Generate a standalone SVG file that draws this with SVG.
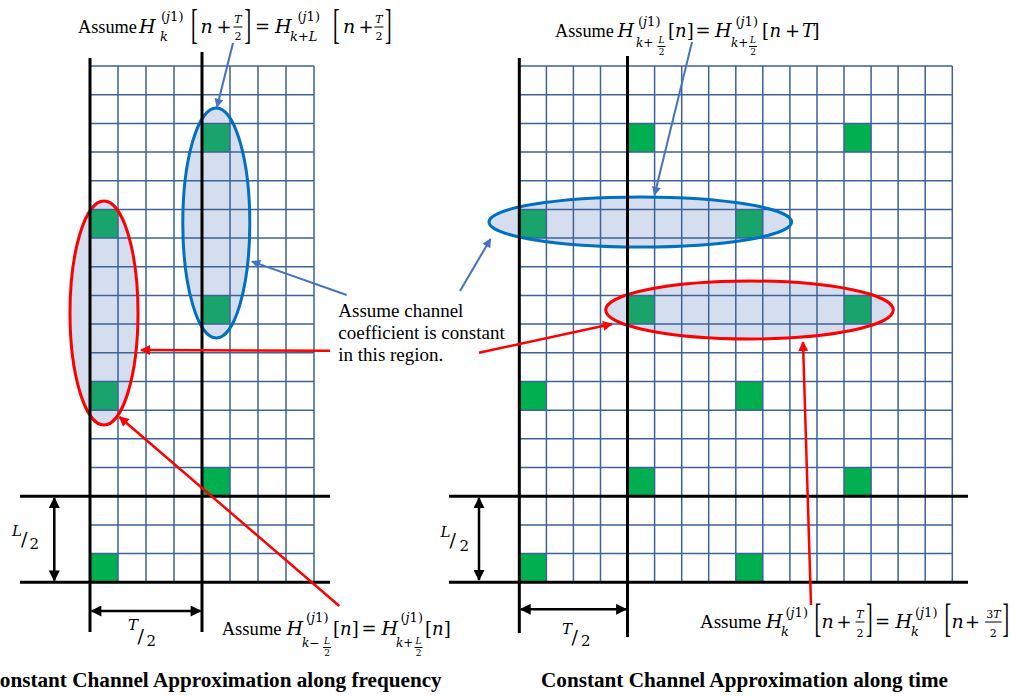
<svg xmlns="http://www.w3.org/2000/svg" width="1011" height="696" viewBox="0 0 1011 696">
<defs>
<style>
.tx{font-family:"Liberation Serif","Times New Roman",serif;fill:#000}
.m{font-family:"DejaVu Serif",serif;fill:#000}
.i{font-style:italic}
.cap{font-family:"Liberation Serif","Times New Roman",serif;font-weight:bold;font-size:21.2px;fill:#000}
.grid{fill:none;stroke:#3D6399;stroke-width:1.5}
.thick{fill:none;stroke:#000;stroke-width:3}
.g{fill:#00B050}
.gd{fill:#18A46A}
.efill{fill:#D5DEEF;stroke:none}
.eb{fill:none;stroke:#0070C0;stroke-width:3}
.er{fill:none;stroke:#FF0000;stroke-width:3}
.ab{fill:none;stroke:#4472C4;stroke-width:2;marker-end:url(#mb)}
.ar{fill:none;stroke:#FF0000;stroke-width:2.5;marker-end:url(#mr)}
.ad{fill:none;stroke:#000;stroke-width:2.5;marker-start:url(#mk);marker-end:url(#mk)}
.fb{stroke:#000;stroke-width:1}
</style>
<marker id="mb" viewBox="0 0 10 10" refX="9" refY="5" markerWidth="11" markerHeight="9" markerUnits="userSpaceOnUse" orient="auto"><path d="M0,0 L10,5 L0,10 z" fill="#4472C4"/></marker>
<marker id="mr" viewBox="0 0 10 10" refX="9" refY="5" markerWidth="11" markerHeight="10" markerUnits="userSpaceOnUse" orient="auto"><path d="M0,0 L10,5 L0,10 z" fill="#FF0000"/></marker>
<marker id="mk" viewBox="0 0 10 10" refX="9" refY="5" markerWidth="12" markerHeight="11" markerUnits="userSpaceOnUse" orient="auto-start-reverse"><path d="M0,0 L10,5 L0,10 z" fill="#000"/></marker>
</defs>
<rect width="1011" height="696" fill="#fff"/>

<g id="regions-fill">
<ellipse class="efill" cx="216.3" cy="223" rx="33.5" ry="115"/>
<ellipse class="efill" cx="104" cy="313" rx="34" ry="112"/>
<ellipse class="efill" cx="640.3" cy="222" rx="151.3" ry="25"/>
<ellipse class="efill" cx="749.5" cy="310" rx="143.8" ry="29"/>
</g>

<g id="left-grid">
<rect class="gd" x="90" y="209.4" width="28" height="28.7"/>
<rect class="gd" x="90" y="381.5" width="28" height="28.7"/>
<rect class="g" x="90" y="553.6" width="28" height="28.7"/>
<rect class="gd" x="202" y="123.4" width="28" height="28.7"/>
<rect class="gd" x="202" y="295.4" width="28" height="28.7"/>
<rect class="g" x="202" y="467.5" width="28" height="28.7"/>
<path class="grid" d="M90 66V582.2M118 66V582.2M146 66V582.2M174 66V582.2M202 66V582.2M230 66V582.2M258 66V582.2M286 66V582.2M314 66V582.2
M90 66H314M90 94.7H314M90 123.4H314M90 152H314M90 180.7H314M90 209.4H314M90 238.1H314M90 266.8H314M90 295.4H314M90 324.1H314M90 352.8H314M90 381.5H314M90 410.2H314M90 438.8H314M90 467.5H314M90 496.2H314M90 524.9H314M90 553.6H314M90 582.2H314"/>
</g>

<g id="right-grid">
<rect class="g" x="627.5" y="123.4" width="27.1" height="28.7"/>
<rect class="g" x="844" y="123.4" width="27.1" height="28.7"/>
<rect class="gd" x="519.3" y="209.4" width="27.1" height="28.7"/>
<rect class="gd" x="735.8" y="209.4" width="27.1" height="28.7"/>
<rect class="gd" x="627.5" y="295.4" width="27.1" height="28.7"/>
<rect class="gd" x="844" y="295.4" width="27.1" height="28.7"/>
<rect class="g" x="519.3" y="381.5" width="27.1" height="28.7"/>
<rect class="g" x="735.8" y="381.5" width="27.1" height="28.7"/>
<rect class="g" x="627.5" y="467.5" width="27.1" height="28.7"/>
<rect class="g" x="844" y="467.5" width="27.1" height="28.7"/>
<rect class="g" x="519.3" y="553.6" width="27.1" height="28.7"/>
<rect class="g" x="735.8" y="553.6" width="27.1" height="28.7"/>
<path class="grid" d="M519.3 66V582.2M546.4 66V582.2M573.4 66V582.2M600.5 66V582.2M627.5 66V582.2M654.6 66V582.2M681.7 66V582.2M708.7 66V582.2M735.8 66V582.2M762.8 66V582.2M789.9 66V582.2M817 66V582.2M844 66V582.2M871.1 66V582.2M898.1 66V582.2M925.2 66V582.2M952.3 66V582.2
M519.3 66H952.3M519.3 94.7H952.3M519.3 123.4H952.3M519.3 152H952.3M519.3 180.7H952.3M519.3 209.4H952.3M519.3 238.1H952.3M519.3 266.8H952.3M519.3 295.4H952.3M519.3 324.1H952.3M519.3 352.8H952.3M519.3 381.5H952.3M519.3 410.2H952.3M519.3 438.8H952.3M519.3 467.5H952.3M519.3 496.2H952.3M519.3 524.9H952.3M519.3 553.6H952.3M519.3 582.2H952.3"/>
</g>

<g id="regions-outline">
<ellipse id="left-blue" class="eb" cx="216.3" cy="223" rx="33.5" ry="115"/>
<ellipse id="left-red" class="er" cx="104" cy="313" rx="34" ry="112"/>
<ellipse id="right-blue" class="eb" cx="640.3" cy="222" rx="151.3" ry="25"/>
<ellipse id="right-red" class="er" cx="749.5" cy="310" rx="143.8" ry="29"/>
</g>

<g id="frame-lines">
<path class="thick" d="M90 58V632M202 52V632M20 496.2H330M20 582.2H330"/>
<path class="thick" d="M519.3 58V633M627.5 56V637M449 496.2H968M449 582.2H968"/>
</g>

<g id="connectors">
<path class="ab" d="M233 43L217 107"/>
<path class="ab" d="M692 42L654.5 195"/>
<path class="ab" d="M346.7 295L252 261.5"/>
<path class="ab" d="M460 291L490.5 239"/>
<path class="ar" d="M330 350.7L141 350"/>
<path class="ar" d="M479 352.7L612 324"/>
<path class="ar" d="M339.3 606L119.5 417"/>
<path class="ar" d="M811 605L803 342"/>
<path class="ad" d="M54.3 498V580.5"/>
<path class="ad" d="M91.5 611H200.5"/>
<path class="ad" d="M479 498V580"/>
<path class="ad" d="M520.8 609.3H626"/>
</g>

<g id="dim-left-L">
<text class="m i" x="12" y="536" font-size="15">L</text>
<text class="m" x="21" y="546" font-size="19">/</text>
<text class="m" x="29.5" y="548.5" font-size="15">2</text>
</g>
<g id="dim-left-T">
<text class="m i" x="128" y="630" font-size="15">T</text>
<text class="m" x="137.5" y="643" font-size="19">/</text>
<text class="m" x="146.5" y="645.5" font-size="15">2</text>
</g>
<g id="dim-right-L">
<text class="m i" x="440.5" y="537" font-size="15">L</text>
<text class="m" x="449.5" y="547" font-size="19">/</text>
<text class="m" x="459.5" y="550.5" font-size="15">2</text>
</g>
<g id="dim-right-T">
<text class="m i" x="562" y="633.5" font-size="15">T</text>
<text class="m" x="571.5" y="644" font-size="19">/</text>
<text class="m" x="581" y="645.5" font-size="15">2</text>
</g>

<g id="note-center">
<text class="tx" x="338.3" y="316.7" font-size="19">Assume channel</text>
<text class="tx" x="338.3" y="339" font-size="19">coefficient is constant</text>
<text class="tx" x="338.3" y="361.3" font-size="19">in this region.</text>
</g>

<g id="label-top-left">
<text class="tx" x="78" y="33" font-size="18.3">Assume</text>
<text class="m i" x="139" y="33" font-size="19">H</text>
<text class="m" x="161" y="21" font-size="13">(<tspan class="i">j</tspan>1)</text>
<text class="m i" x="160" y="41" font-size="13">k</text>
<text class="tx" transform="translate(191,38.3) scale(1,2.1)" font-size="20">[</text>
<text class="m i" x="200.5" y="33" font-size="19">n</text>
<text class="m" x="216.5" y="33" font-size="18">+</text>
<text class="m i" x="238" y="23" font-size="11" text-anchor="middle">T</text>
<line class="fb" x1="233.5" y1="27" x2="242.5" y2="27"/>
<text class="m" x="238" y="40" font-size="11" text-anchor="middle">2</text>
<text class="tx" transform="translate(244.5,38.3) scale(1,2.1)" font-size="20">]</text>
<text class="m" x="255" y="33" font-size="18">=</text>
<text class="m i" x="275" y="33" font-size="19">H</text>
<text class="m" x="297.5" y="21" font-size="13">(<tspan class="i">j</tspan>1)</text>
<text class="m" x="290" y="41" font-size="13"><tspan class="i">k</tspan>+<tspan class="i">L</tspan></text>
<text class="tx" transform="translate(333,38.3) scale(1,2.1)" font-size="20">[</text>
<text class="m i" x="343" y="33" font-size="19">n</text>
<text class="m" x="358.5" y="33" font-size="18">+</text>
<text class="m i" x="379" y="23" font-size="11" text-anchor="middle">T</text>
<line class="fb" x1="374.5" y1="27" x2="383.5" y2="27"/>
<text class="m" x="379" y="40" font-size="11" text-anchor="middle">2</text>
<text class="tx" transform="translate(385,38.3) scale(1,2.1)" font-size="20">]</text>
</g>

<g id="label-top-right">
<text class="tx" x="555" y="36.7" font-size="18.3">Assume</text>
<text class="m i" x="617.5" y="36.7" font-size="19">H</text>
<text class="m" x="638" y="26" font-size="13">(<tspan class="i">j</tspan>1)</text>
<text class="m" x="636" y="47" font-size="12"><tspan class="i">k</tspan>+</text>
<text class="m i" x="661.5" y="43" font-size="9" text-anchor="middle">L</text>
<line class="fb" x1="657.5" y1="46.5" x2="665.5" y2="46.5"/>
<text class="m" x="661.5" y="55" font-size="9" text-anchor="middle">2</text>
<text class="m" x="668" y="36.7" font-size="18">[<tspan class="i">n</tspan>]</text>
<text class="m" x="695.5" y="36.7" font-size="18">=</text>
<text class="m i" x="715" y="36.7" font-size="19">H</text>
<text class="m" x="735.5" y="26" font-size="13">(<tspan class="i">j</tspan>1)</text>
<text class="m" x="731" y="47" font-size="12"><tspan class="i">k</tspan>+</text>
<text class="m i" x="753" y="43" font-size="9" text-anchor="middle">L</text>
<line class="fb" x1="749" y1="46.5" x2="757" y2="46.5"/>
<text class="m" x="753" y="55" font-size="9" text-anchor="middle">2</text>
<text class="m" x="762" y="36.7" font-size="18">[</text>
<text class="m i" x="769.5" y="36.7" font-size="18">n</text>
<text class="m" x="785" y="36.7" font-size="18">+</text>
<text class="m i" x="802" y="36.7" font-size="18">T</text>
<text class="m" x="812.5" y="36.7" font-size="18">]</text>
</g>

<g id="label-bottom-left">
<text class="tx" x="221.7" y="635" font-size="18.6">Assume</text>
<text class="m i" x="286.5" y="635" font-size="19">H</text>
<text class="m" x="306" y="622" font-size="13">(<tspan class="i">j</tspan>1)</text>
<text class="m" x="302" y="647" font-size="12"><tspan class="i">k</tspan>−</text>
<text class="m i" x="327" y="644" font-size="9" text-anchor="middle">L</text>
<line class="fb" x1="323" y1="647.5" x2="331" y2="647.5"/>
<text class="m" x="327" y="656" font-size="9" text-anchor="middle">2</text>
<text class="m" x="333" y="635" font-size="18">[<tspan class="i">n</tspan>]</text>
<text class="m" x="361.5" y="635" font-size="18">=</text>
<text class="m i" x="381.5" y="635" font-size="19">H</text>
<text class="m" x="400.5" y="622" font-size="13">(<tspan class="i">j</tspan>1)</text>
<text class="m" x="396" y="647" font-size="12"><tspan class="i">k</tspan>+</text>
<text class="m i" x="418.5" y="644" font-size="9" text-anchor="middle">L</text>
<line class="fb" x1="414.5" y1="647.5" x2="422.5" y2="647.5"/>
<text class="m" x="418.5" y="656" font-size="9" text-anchor="middle">2</text>
<text class="m" x="425" y="635" font-size="18">[<tspan class="i">n</tspan>]</text>
</g>

<g id="label-bottom-right">
<text class="tx" x="700" y="628.3" font-size="19">Assume</text>
<text class="m i" x="766" y="628.3" font-size="19">H</text>
<text class="m" x="785.5" y="617" font-size="13">(<tspan class="i">j</tspan>1)</text>
<text class="m i" x="781" y="636" font-size="13">k</text>
<text class="tx" transform="translate(814.5,631.7) scale(1,2)" font-size="20">[</text>
<text class="m i" x="821.5" y="628.3" font-size="19">n</text>
<text class="m" x="836.5" y="628.3" font-size="18">+</text>
<text class="m i" x="860" y="617.5" font-size="11" text-anchor="middle">T</text>
<line class="fb" x1="855.5" y1="622" x2="864.5" y2="622"/>
<text class="m" x="860" y="637" font-size="11" text-anchor="middle">2</text>
<text class="tx" transform="translate(866,631.7) scale(1,2)" font-size="20">]</text>
<text class="m" x="875" y="628.3" font-size="18">=</text>
<text class="m i" x="895.5" y="628.3" font-size="19">H</text>
<text class="m" x="915" y="617" font-size="13">(<tspan class="i">j</tspan>1)</text>
<text class="m i" x="911" y="636" font-size="13">k</text>
<text class="tx" transform="translate(944.5,631.7) scale(1,2)" font-size="20">[</text>
<text class="m i" x="951.5" y="628.3" font-size="19">n</text>
<text class="m" x="965" y="628.3" font-size="18">+</text>
<text class="m" x="993.3" y="617.5" font-size="11" text-anchor="middle">3<tspan class="i">T</tspan></text>
<line class="fb" x1="985" y1="622" x2="1001.7" y2="622"/>
<text class="m" x="993.3" y="637" font-size="11" text-anchor="middle">2</text>
<text class="tx" transform="translate(1002.5,631.7) scale(1,2)" font-size="20">]</text>
</g>

<g id="captions">
<text class="cap" x="441.7" y="687" text-anchor="end">Constant Channel Approximation along frequency</text>
<text class="cap" x="541" y="687">Constant Channel Approximation along time</text>
</g>
</svg>
